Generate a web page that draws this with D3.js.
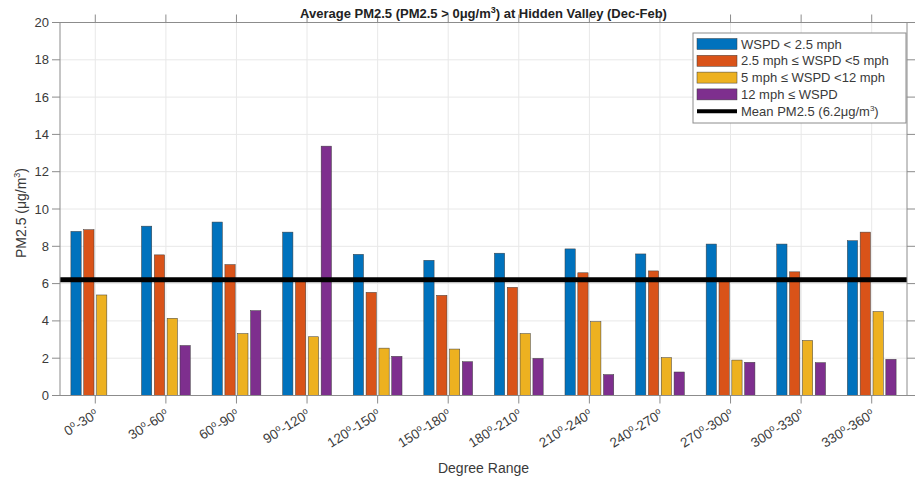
<!DOCTYPE html>
<html>
<head>
<meta charset="utf-8">
<script src="https://cdn.jsdelivr.net/npm/d3@7"></script>
<style>
  body { margin: 0; background: #fff; }
  svg { display: block; font-family: "Liberation Sans", Arial, sans-serif; }
</style>
</head>
<body>
<svg id="chart" width="915" height="479"></svg>
<script>
// ---- data ----
const categories = ["0°-30°","30°-60°","60°-90°","90°-120°","120°-150°","150°-180°",
                    "180°-210°","210°-240°","240°-270°","270°-300°","300°-330°","330°-360°"];
const seriesNames = ["WSPD < 2.5 mph", "2.5 mph ≤ WSPD <5 mph", "5 mph ≤ WSPD <12 mph", "12 mph ≤ WSPD"];
const wspdLow   = [8.8, 9.08, 9.3, 8.76, 7.57, 7.25, 7.63, 7.86, 7.59, 8.12, 8.12, 8.3];
const wspdMid   = [8.89, 7.54, 7.02, 6.1, 5.53, 5.37, 5.8, 6.58, 6.68, 6.15, 6.63, 8.76];
const wspdHigh  = [5.39, 4.14, 3.32, 3.15, 2.54, 2.49, 3.32, 3.96, 2.03, 1.9, 2.95, 4.5];
const wspdVHigh = [null, 2.68, 4.55, 13.37, 2.1, 1.81, 1.99, 1.12, 1.26, 1.78, 1.76, 1.94];
const meanPM = 6.2;
const yTicks = [0, 2, 4, 6, 8, 10, 12, 14, 16, 18, 20];
const colors = ["#0072BD", "#D95319", "#EDB120", "#7E2F8E"];

const series = [wspdLow, wspdMid, wspdHigh, wspdVHigh];

// ---- layout ----
const svg = d3.select("#chart");
const L = 60, R = 907, T = 22.5, B = 395.5;
const tickLen = 8;
const axisColor = "#8c8c8c";
const textColor = "#3a3a3a";

const x = d3.scaleLinear().domain([0.5, categories.length + 0.5]).range([L, R]);
const y = d3.scaleLinear().domain([0, 20]).range([B, T]);

// grid
const grid = svg.append("g");
grid.selectAll("line.gy").data(yTicks).join("line")
  .attr("x1", L).attr("x2", R).attr("y1", d => y(d)).attr("y2", d => y(d))
  .attr("stroke", "#e8e8e8").attr("stroke-width", 1);
grid.selectAll("line.gx").data(categories).join("line")
  .attr("x1", (d, i) => x(i + 1)).attr("x2", (d, i) => x(i + 1))
  .attr("y1", T).attr("y2", B)
  .attr("stroke", "#e8e8e8").attr("stroke-width", 1);

// bars (MATLAB grouped layout)
const nS = series.length;
const groupWidth = Math.min(0.8, nS / (nS + 1.5));
const slot = groupWidth / nS;
const barW = slot * 0.8;
const barsG = svg.append("g");
series.forEach((vals, s) => {
  const off = -groupWidth / 2 + slot * (s + 0.5);
  barsG.selectAll(null).data(vals.map((v, i) => ({v, i})).filter(d => d.v != null)).join("rect")
    .attr("x", d => x(d.i + 1 + off - barW / 2))
    .attr("width", d => x(d.i + 1 + off + barW / 2) - x(d.i + 1 + off - barW / 2))
    .attr("y", d => y(d.v))
    .attr("height", d => y(0) - y(d.v))
    .attr("fill", colors[s])
    .attr("stroke", "#3c3c3c").attr("stroke-width", 0.5);
});

// mean line
svg.append("line")
  .attr("x1", L).attr("x2", R).attr("y1", y(meanPM)).attr("y2", y(meanPM))
  .attr("stroke", "#000").attr("stroke-width", 5);

// axes box
const ax = svg.append("g").attr("stroke", axisColor).attr("stroke-width", 1).attr("fill", "none");
ax.append("rect").attr("x", L).attr("y", T).attr("width", R - L).attr("height", B - T);
ax.selectAll("line.yl").data(yTicks).join("line").attr("class", "yl")
  .attr("x1", L - tickLen).attr("x2", L).attr("y1", d => y(d)).attr("y2", d => y(d));
ax.selectAll("line.yr").data(yTicks).join("line").attr("class", "yr")
  .attr("x1", R).attr("x2", R + tickLen).attr("y1", d => y(d)).attr("y2", d => y(d));
ax.selectAll("line.xb").data(categories).join("line").attr("class", "xb")
  .attr("x1", (d, i) => x(i + 1)).attr("x2", (d, i) => x(i + 1)).attr("y1", B).attr("y2", B + tickLen);
ax.selectAll("line.xt").data(categories).join("line").attr("class", "xt")
  .attr("x1", (d, i) => x(i + 1)).attr("x2", (d, i) => x(i + 1)).attr("y1", T - tickLen).attr("y2", T);

// y tick labels
svg.append("g").selectAll("text").data(yTicks).join("text")
  .attr("x", L - tickLen - 3).attr("y", d => y(d)).attr("dy", "0.35em")
  .attr("text-anchor", "end").attr("font-size", 13).attr("fill", textColor)
  .text(d => d);

// helper: add text with superscript parts
function superText(sel, parts, baseSize, supSize, shift) {
  let cur = 0;
  parts.forEach(([t, sup]) => {
    const target = sup ? -shift : 0;
    sel.append("tspan").attr("dy", target - cur).attr("font-size", sup ? supSize : baseSize).text(t);
    cur = target;
  });
}

// x tick labels (rotated, with superscript degree "o")
const xl = svg.append("g").selectAll("text").data(categories).join("text")
  .attr("text-anchor", "end").attr("font-size", 13).attr("fill", textColor)
  .attr("transform", (d, i) => `translate(${x(i + 1) + 4},${B + 21}) rotate(-32)`);
xl.each(function(d) {
  const pieces = d.split("°");
  const parts = [];
  pieces.forEach((p, k) => {
    if (p !== "") parts.push([p, false]);
    if (k < pieces.length - 1) parts.push(["o", true]);
  });
  superText(d3.select(this), parts, 13.5, 9, 5);
});

// axis labels
svg.append("text").attr("x", (L + R) / 2).attr("y", 473)
  .attr("text-anchor", "middle").attr("font-size", 14).attr("fill", textColor)
  .text("Degree Range");
const yl = svg.append("text").attr("transform", `translate(26,${(T + B) / 2 + 4}) rotate(-90)`)
  .attr("text-anchor", "middle").attr("font-size", 14).attr("fill", textColor);
superText(yl, [["PM2.5 (μg/m", false], ["3", true], [")", false]], 14, 9, 6);

// title
const title = svg.append("text").attr("x", (L + R) / 2).attr("y", 18)
  .attr("text-anchor", "middle").attr("font-size", 13).attr("font-weight", "bold").attr("fill", "#222");
superText(title, [["Average PM2.5 (PM2.5 > 0μg/m", false], ["3", true], [") at Hidden Valley (Dec-Feb)", false]], 13, 9, 5);

// legend
const lg = svg.append("g");
const lx = 693, ly = 33, lw = 213, lh = 90;
lg.append("rect").attr("x", lx).attr("y", ly).attr("width", lw).attr("height", lh)
  .attr("fill", "#fff").attr("stroke", "#8c8c8c").attr("stroke-width", 1);
const rowY = i => ly + 11 + i * 16.8;
seriesNames.forEach((name, i) => {
  lg.append("rect").attr("x", lx + 4).attr("y", rowY(i) - 5.5).attr("width", 40).attr("height", 11)
    .attr("fill", colors[i]).attr("stroke", "#3c3c3c").attr("stroke-width", 0.5);
  lg.append("text").attr("x", lx + 48).attr("y", rowY(i)).attr("dy", "0.35em")
    .attr("font-size", 13).attr("fill", textColor).text(name);
});
lg.append("line").attr("x1", lx + 4).attr("x2", lx + 44).attr("y1", rowY(4)).attr("y2", rowY(4))
  .attr("stroke", "#000").attr("stroke-width", 4);
const mt = lg.append("text").attr("x", lx + 48).attr("y", rowY(4) + 4.5)
  .attr("font-size", 13).attr("fill", textColor);
superText(mt, [["Mean PM2.5 (6.2μg/m", false], ["3", true], [")", false]], 13, 8, 5);
</script>
</body>
</html>
